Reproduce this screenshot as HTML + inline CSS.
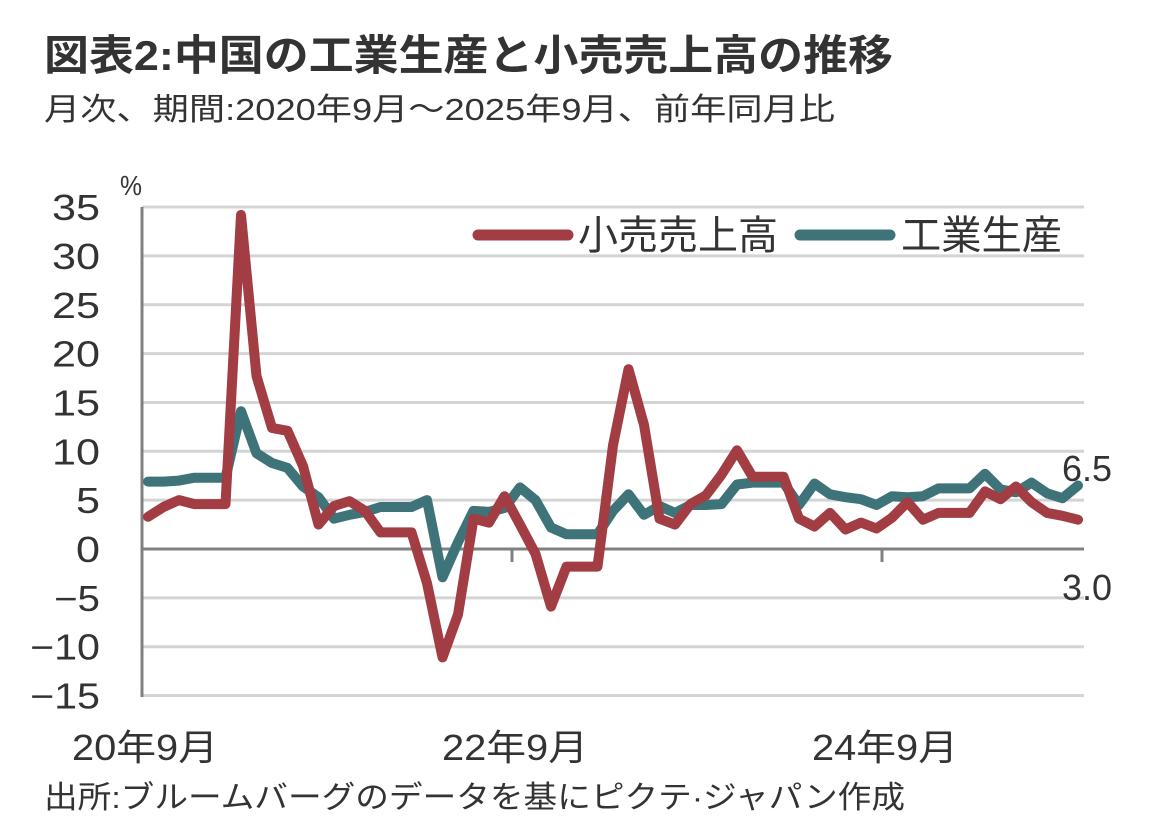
<!DOCTYPE html>
<html><head><meta charset="utf-8"><style>
body{margin:0;background:#fff}
svg text{font-family:"Liberation Sans","Noto Sans CJK JP",sans-serif;fill:#333}
</style></head><body>
<svg id="s" width="1152" height="828" viewBox="0 0 1152 828" xmlns="http://www.w3.org/2000/svg">
<text x="44" y="70" font-size="42" font-weight="bold" fill="#444" textLength="849" lengthAdjust="spacingAndGlyphs">図表2:中国の工業生産と小売売上高の推移</text>
<text x="44" y="120" font-size="31" textLength="791" lengthAdjust="spacingAndGlyphs">月次、期間:2020年9月～2025年9月、前年同月比</text>
<text x="120" y="195" font-size="28" textLength="22" lengthAdjust="spacingAndGlyphs">%</text>
<g id="grid" stroke="#d4d4d4" stroke-width="3"></g>
<line x1="142" y1="207" x2="142" y2="697" stroke="#808080" stroke-width="3"/>
<line x1="142" y1="549" x2="1084" y2="549" stroke="#808080" stroke-width="3"/>
<line x1="512" y1="549" x2="512" y2="562" stroke="#808080" stroke-width="3"/>
<line x1="882" y1="549" x2="882" y2="562" stroke="#808080" stroke-width="3"/>
<g id="ylab" font-size="36" text-anchor="end"></g>
<g font-size="36">
<text x="72" y="760" textLength="146" lengthAdjust="spacingAndGlyphs">20年9月</text>
<text x="442" y="760" textLength="146" lengthAdjust="spacingAndGlyphs">22年9月</text>
<text x="812" y="760" textLength="146" lengthAdjust="spacingAndGlyphs">24年9月</text>
</g>
<polyline id="ip" fill="none" stroke="#3e7479" stroke-width="10" stroke-linejoin="round" stroke-linecap="round"/>
<polyline id="rs" fill="none" stroke="#a23d44" stroke-width="10" stroke-linejoin="round" stroke-linecap="round"/>
<line x1="478" y1="235" x2="568" y2="235" stroke="#a23d44" stroke-width="11" stroke-linecap="round"/>
<text x="578" y="249" font-size="40" textLength="200" lengthAdjust="spacingAndGlyphs">小売売上高</text>
<line x1="800" y1="235" x2="890" y2="235" stroke="#3e7479" stroke-width="11" stroke-linecap="round"/>
<text x="901" y="249" font-size="40" textLength="161" lengthAdjust="spacingAndGlyphs">工業生産</text>
<text x="1062" y="481" font-size="36" textLength="50" lengthAdjust="spacingAndGlyphs">6.5</text>
<text x="1062" y="600" font-size="36" textLength="50" lengthAdjust="spacingAndGlyphs">3.0</text>
<text x="44" y="808" font-size="31" textLength="861" lengthAdjust="spacingAndGlyphs">出所:ブルームバーグのデータを基にピクテ·ジャパン作成</text>
</svg>
<script>
var Y=function(v){return 549-9.77*v};
var g=document.getElementById('grid'),yl=document.getElementById('ylab'),ns="http://www.w3.org/2000/svg";
for(var v=35;v>=-15;v-=5){
 if(v!==0){var l=document.createElementNS(ns,'line');l.setAttribute('x1',142);l.setAttribute('x2',1084);l.setAttribute('y1',Y(v));l.setAttribute('y2',Y(v));g.appendChild(l);}
 var t=document.createElementNS(ns,'text');t.setAttribute('x',100);t.setAttribute('y',Y(v)+13);
 var s=(v<0?'−'+(-v):''+v);t.textContent=s;
 var w=(''+Math.abs(v)).length*24+(v<0?22:0);
 t.setAttribute('textLength',w);t.setAttribute('lengthAdjust','spacingAndGlyphs');yl.appendChild(t);
}
var rs=[3.3,4.3,5.0,4.6,4.6,4.6,34.2,17.7,12.4,12.1,8.5,2.5,4.4,4.9,3.9,1.7,1.7,1.7,-3.5,-11.1,-6.7,3.1,2.7,5.4,2.5,-0.5,-5.9,-1.8,-1.8,-1.8,10.6,18.4,12.7,3.1,2.5,4.6,5.5,7.6,10.1,7.4,7.4,7.4,3.1,2.3,3.7,2.0,2.7,2.1,3.2,4.8,3.0,3.7,3.7,3.7,5.9,5.1,6.4,4.8,3.7,3.4,3.0];
var ip=[6.9,6.9,7.0,7.3,7.3,7.3,14.1,9.8,8.8,8.3,6.4,5.3,3.1,3.5,3.8,4.3,4.3,4.3,5.0,-2.9,0.7,3.9,3.8,4.2,6.3,5.0,2.2,1.5,1.5,1.5,3.9,5.6,3.5,4.4,3.7,4.5,4.5,4.6,6.6,6.8,6.8,6.8,4.5,6.7,5.6,5.3,5.1,4.5,5.4,5.3,5.4,6.2,6.2,6.2,7.7,6.1,5.8,6.8,5.7,5.2,6.5];
function pts(a){return a.map(function(v,i){return (148+15.5*i).toFixed(1)+','+Y(v).toFixed(1)}).join(' ')}
document.getElementById('rs').setAttribute('points',pts(rs));
document.getElementById('ip').setAttribute('points',pts(ip));
</script>
</body></html>
